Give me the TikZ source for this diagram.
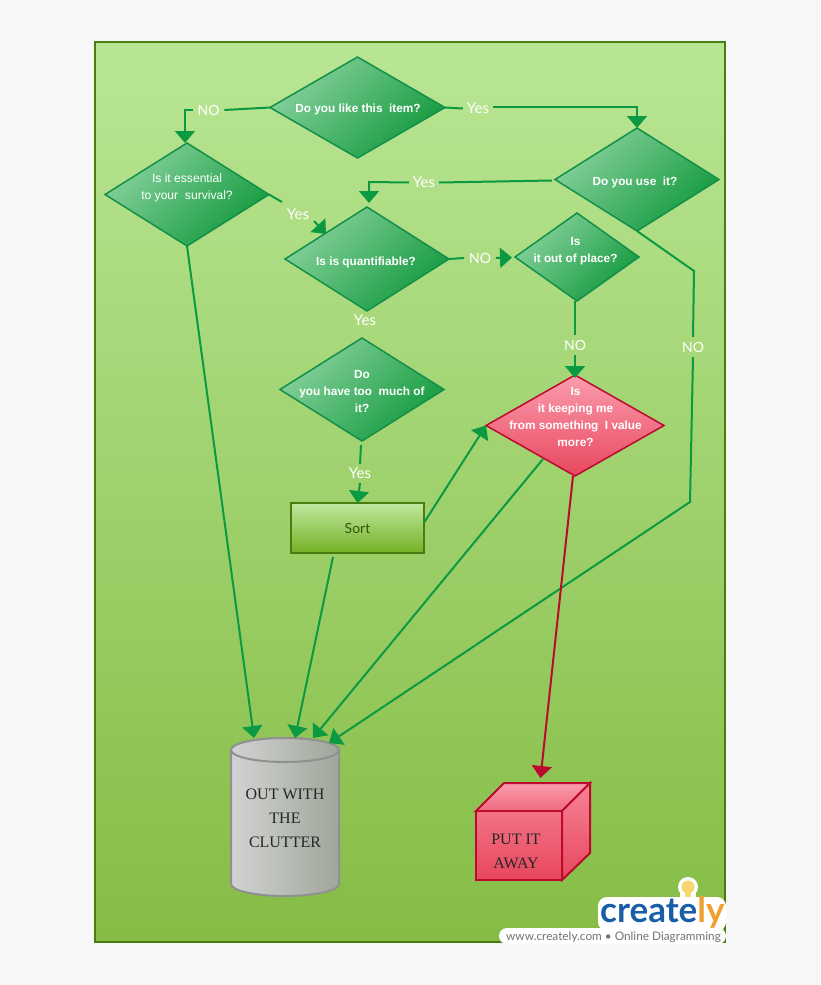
\documentclass[tikz,border=0pt]{standalone}
\usepackage{fontspec}
\setmainfont{Liberation Sans}
\newfontfamily\latofont{Lato}
\newfontfamily\serifont{Liberation Serif}
\usetikzlibrary{shapes.geometric,arrows.meta}
\definecolor{pagebg}{HTML}{F7F7F7}
\definecolor{bgtop}{HTML}{B9E694}
\definecolor{bgbot}{HTML}{85BC45}
\definecolor{frame}{HTML}{4A7D10}
\definecolor{lineg}{HTML}{0B9A41}
\definecolor{diabd}{HTML}{128F49}
\definecolor{dialt}{HTML}{86D19C}
\definecolor{diadk}{HTML}{149A3E}
\definecolor{pinkt}{HTML}{FB9DAE}
\definecolor{pinkb}{HTML}{E8475E}
\definecolor{redln}{HTML}{BC0A2E}
\definecolor{cang}{HTML}{9FA69A}
\definecolor{canl}{HTML}{D2D3D2}
\definecolor{canb}{HTML}{8F908F}
\definecolor{sortb}{HTML}{74B024}
\definecolor{bulb}{HTML}{F8D672}
\tikzset{
 dia/.style={diamond,draw=diabd,line width=1.5pt,inner sep=0pt,outer sep=0pt,top color=dialt,bottom color=diadk,shading angle=45},
 dtext/.style={text=white,align=center,font=\fontsize{12.1}{17}\selectfont},
 btext/.style={text=white,align=center,font=\bfseries\fontsize{11.8}{17}\selectfont},
 lab/.style={text=white,font=\latofont\fontsize{15}{16}\selectfont,inner sep=4pt,outer sep=0pt},
 labn/.style={lab,font=\latofont\fontsize{14}{16}\selectfont,inner sep=5pt},
 conn/.style={draw=lineg,line width=2pt},
 arr/.style={conn,-{Triangle[width=20pt,length=12pt]}},
 sertext/.style={text=black!85,align=center,font=\serifont\fontsize{16}{24}\selectfont},
}
\begin{document}
\begin{tikzpicture}[x=1pt,y=-1pt]
\useasboundingbox (0,0) rectangle (820,985);
\fill[pagebg] (0,0) rectangle (820,985);
\path[draw=frame,line width=2pt,top color=bgtop,bottom color=bgbot] (95,42) rectangle (725,942);

% diamonds
\node[dia,minimum width=175pt,minimum height=101pt] (d1) at (357.5,107.5) {};
\node[dia,minimum width=164pt,minimum height=103pt] (d2) at (187,194.5) {};
\node[dia,minimum width=164pt,minimum height=103pt] (d3) at (637,179.5) {};
\node[dia,minimum width=164pt,minimum height=104pt] (d4) at (367,259) {};
\node[dia,minimum width=124pt,minimum height=88pt] (d5) at (577,257) {};
\node[dia,minimum width=164pt,minimum height=103pt] (d6) at (362,389.5) {};
\node[diamond,draw=redln,line width=1.5pt,inner sep=0pt,outer sep=0pt,top color=pinkt,bottom color=pinkb,minimum width=178pt,minimum height=101pt] (d7) at (575,425.5) {};
\node[btext] (t1) at (358,109) {Do you like this\ \ item?};
\node[dtext] (t2) at (187,188) {Is it essential\\to your\ \ survival?};
\node[btext] (t3) at (635,182) {Do you use\ \ it?};
\node[btext] (t4) at (366,262) {Is is quantifiable?};
\node[btext] (t5) at (575.5,251) {Is\\it out of place?};
\node[btext] (t6) at (362,391) {Do\\you have too\ \ much of\\it?};
\node[btext] (t7) at (575.5,417) {Is\\it keeping me\\from something\ \ I value\\more?};

% sort box
\node[draw=frame,line width=2pt,top color=bgtop!90!white,bottom color=sortb,minimum width=133pt,minimum height=50pt,inner sep=0pt,outer sep=0pt,text=frame!70!black,font=\latofont\fontsize{14}{16}\selectfont] (sort) at (357.5,528) {Sort};

% cylinder
\path[draw=canb,line width=2pt,left color=canl,right color=cang] (231,750) -- (231,884) arc[start angle=180,end angle=360,x radius=54pt,y radius=12pt] -- (339,750) arc[start angle=0,end angle=180,x radius=54pt,y radius=12pt] -- cycle;
\path[draw=canb,line width=2pt,left color=canl,right color=cang] (285,750) ellipse[x radius=54pt,y radius=12pt];
\node[sertext] (can) at (285,818) {OUT WITH\\THE\\CLUTTER};
\coordinate (canA) at (254,738);
\coordinate (canB) at (295,738);
\coordinate (canC) at (313,738);
\coordinate (canD) at (329,743);

% cube
\path[draw=redln,line width=2pt,top color=pinkt,bottom color=pinkb!60!pinkt] (504,783) -- (590,783) -- (562,811) -- (476,811) -- cycle;
\path[draw=redln,line width=2pt,top color=pinkt!70!pinkb,bottom color=pinkb] (562,811) -- (590,783) -- (590,853) -- (562,880) -- cycle;
\path[draw=redln,line width=2pt,top color=pinkt!50!pinkb,bottom color=pinkb] (476,811) rectangle (562,880);
\node[sertext] (cube) at (516,851) {PUT IT\\AWAY};
\coordinate (cubeT) at (540.5,778);

% labels
\node[labn] (lNo1) at (208.5,110) {NO};
\node[lab] (lYes1) at (478,108.5) {Yes};
\node[lab] (lYes2) at (424,182.5) {Yes};
\node[lab] (lYes3) at (298,214.5) {Yes};
\node[labn] (lNo2) at (480,258) {NO};
\node[lab] (lYes4) at (365,320.5) {Yes};
\node[labn] (lNo3) at (575,345) {NO};
\node[labn] (lNo4) at (693,347) {NO};
\node[lab] (lYes5) at (360,473.5) {Yes};

% connectors
\draw[conn] (d1.west) -- (lNo1.east);
\coordinate (b1) at (185,110);
\draw[arr] (lNo1.west) -- (b1) -- (d2.north -| b1);
\draw[conn] (d1.east) -- (lYes1.west);
\coordinate (b2) at (637,107);
\draw[arr] (lYes1.east |- b2) -- (b2) -- (d3.north);
\draw[conn] (d3.west) ++(-3,1) -- (lYes2.east);
\coordinate (b3) at (369,182);
\coordinate (d4n) at (369,203);
\draw[arr] (lYes2.west) -- (b3) -- (d4n);
\coordinate (b4a) at (282,202);
\draw[conn] (d2.east) -- (b4a);
\coordinate (b4b) at (314,221);
\coordinate (d4t) at (326,234);
\draw[arr] (b4b) -- (d4t);
\draw[conn] (d4.east) -- (lNo2.west);
\coordinate (d5w) at (512,257.5);
\draw[arr] (lNo2.east) -- (d5w);
\draw[conn] (575,301) -- (lNo3.north);
\coordinate (d7n) at (575,378);
\draw[arr] (lNo3.south) -- (d7n);
\coordinate (b5) at (694,271);
\draw[conn] (d3.south) -- (b5) -- (lNo4.north);
\coordinate (b6) at (690,502);
\draw[arr] (lNo4.south) -- (b6) -- (canD);
\coordinate (d6s) at (361,445);
\draw[conn] (d6s) -- (lYes5.north);
\draw[arr] (lYes5.south) -- (sort.north);
\coordinate (s1) at (424.5,522);
\draw[arr] (s1) -- (d7.west);
\coordinate (s2) at (333,557);
\draw[arr] (s2) -- (canB);
\draw[arr] (d2.south) -- (canA);
\coordinate (d7a) at (543,459);
\draw[arr] (d7a) -- (canC);
\draw[draw=redln,line width=2pt,-{Triangle[width=20pt,length=12pt]}] (d7.south) ++(-2,0) -- (cubeT);

% logo
\fill[white,rounded corners=9pt] (598,897) rectangle (726,931);
\fill[white,rounded corners=8pt] (499,928) rectangle (726,944);
\fill[white] (688,887) circle[radius=10pt];
\fill[white] (680,890) rectangle (696,905);
\fill[bulb] (688,887) circle[radius=6.5pt];
\fill[bulb] (685,890) rectangle (691,897);
\node[inner sep=0pt,anchor=base west,font=\latofont\bfseries\fontsize{35}{40}\selectfont] (logo) at (600,922) {\textcolor[HTML]{1B5EA8}{create}\textcolor[HTML]{F0A030}{ly}};
\node[inner sep=0pt,anchor=base west,text=black!55,font=\latofont\fontsize{11.8}{12}\selectfont] (logot) at (506,940) {www.creately.com • Online Diagramming};
\end{tikzpicture}
\end{document}
